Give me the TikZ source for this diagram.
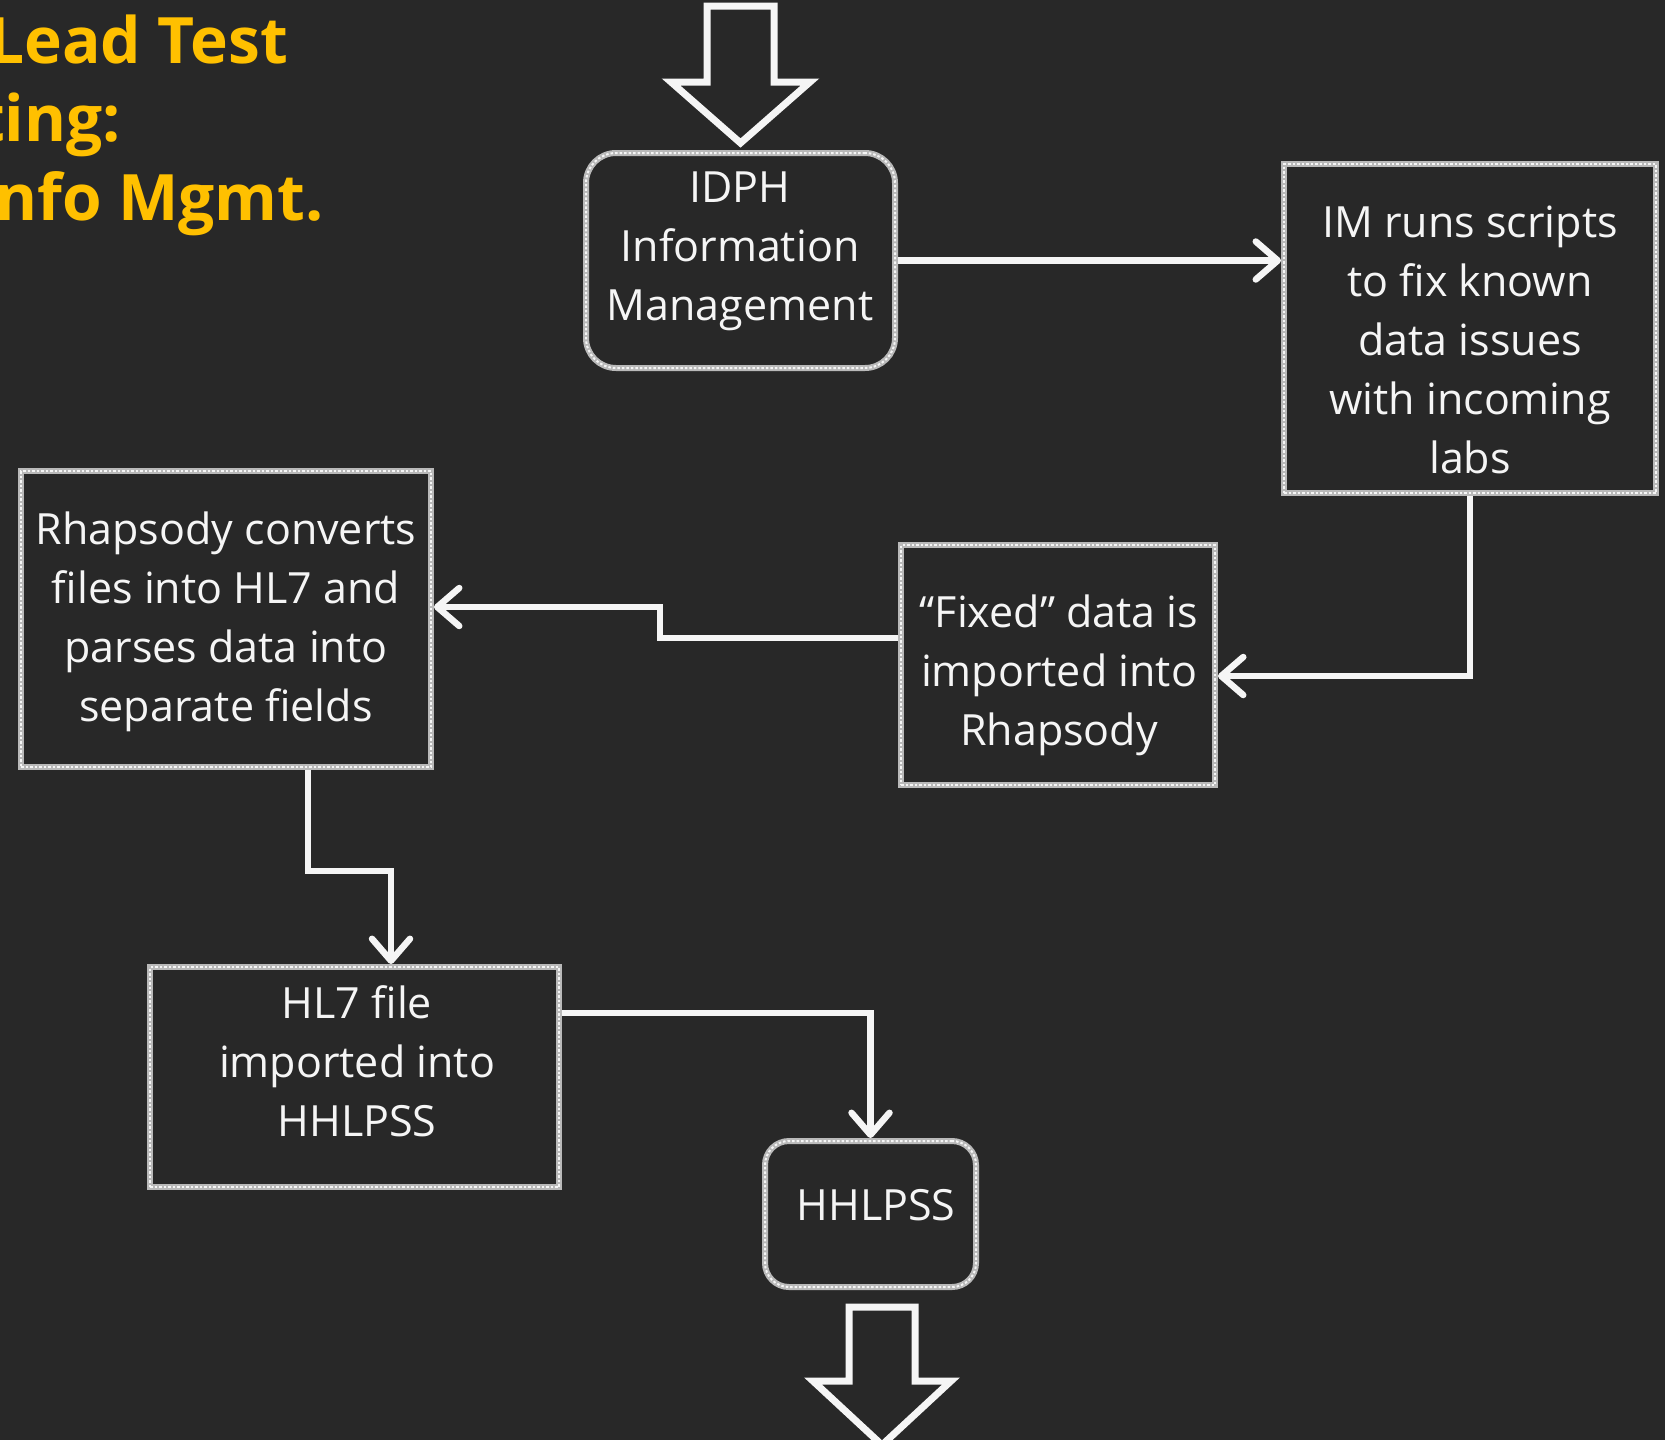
\documentclass[tikz,border=0pt]{standalone}
\usepackage{fontspec}
\setmainfont{Open Sans}
\usetikzlibrary{arrows.meta}
\definecolor{board}{RGB}{40,40,40}
\definecolor{gold}{RGB}{255,192,0}
\definecolor{chalk}{RGB}{185,185,185}
\definecolor{ink}{RGB}{245,245,245}
\begin{document}
\begin{tikzpicture}[x=1pt,y=-1pt,
  box/.style={draw=chalk, line width=6pt, inner sep=0pt, fill=board,
    postaction={draw=white!92!gray, line width=2pt, dash pattern=on 2.5pt off 2pt}},
  rbox/.style={box, rounded corners=30pt},
  txt/.style={text=ink, align=center, font=\fontsize{43}{59}\selectfont, inner sep=0pt},
  title/.style={text=gold, anchor=base east, inner sep=0pt, font=\fontsize{64}{78}\selectfont\bfseries},
  conn/.style={draw=ink, line width=6.5pt, line join=miter,
    -{Straight Barb[length=22pt,width=38pt,round]}},
  blockarrow/.style={draw=ink, line width=7pt, line join=miter}]
\useasboundingbox (0,0) rectangle (1665,1440);
\clip (0,0) rectangle (1665,1440);
\fill[board] (0,0) rectangle (1665,1440);

% title
\node[title] (t1) at (288,63) {Lead Test};
\node[title] (t2) at (121,141) {ting:};
\node[title] (t3) at (324,220) {nfo Mgmt.};

% boxes
\node[rbox, minimum width=309pt, minimum height=215pt] (idph) at (740.5,260.5) {};
\node[box, minimum width=372pt, minimum height=329pt] (im) at (1470,328.5) {};
\node[box, minimum width=410pt, minimum height=296pt] (rhap) at (226,619) {};
\node[box, minimum width=314pt, minimum height=240pt] (fixed) at (1058,665) {};
\node[box, minimum width=409pt, minimum height=220pt] (hl7) at (354.5,1077) {};
\node[rbox, rounded corners=24pt, minimum width=211pt, minimum height=146pt] (hh) at (870.5,1214) {};

% texts
\node[txt] (idphT) at (740,251) {IDPH\\Information\\Management};
\node[txt] (imT) at (1470,340) {IM runs scripts\\to fix known\\data issues\\with incoming\\labs};
\node[txt] (rhapT) at (226,622) {Rhapsody converts\\files into HL7 and\\parses data into\\separate fields};
\node[txt] (fixedT) at (1059,675) {“Fixed” data is\\imported into\\Rhapsody};
\node[txt] (hl7T) at (357,1061) {HL7 file\\imported into\\HHLPSS};
\node[txt] (hhT) at (876,1205) {HHLPSS};

% block arrows
\draw[blockarrow] (707,6) -- (774,6) -- (774,82) -- (810,82) -- (740.5,143) -- (671,82) -- (707,82) -- cycle;
\draw[blockarrow] (849,1307) -- (915,1307) -- (915,1381) -- (951,1381) -- (882,1445) -- (813,1381) -- (849,1381) -- cycle;

% connectors
\draw[conn] (idph.east) -- (idph.east -| im.west);
\coordinate (a1) at (1470,676);
\draw[conn] (im.south) -- (a1) -- (a1 -| fixed.east);
\coordinate (b1) at (660,638);
\coordinate (b2) at (660,607);
\draw[conn] (b1 -| fixed.west) -- (b1) -- (b2) -- (b2 -| rhap.east);
\coordinate (c1) at (308,871);
\coordinate (c2) at (391,871);
\draw[conn] (c1 |- rhap.south) -- (c1) -- (c2) -- (c2 |- hl7.north);
\coordinate (d1) at (870.5,1013);
\draw[conn] (d1 -| hl7.east) -- (d1) -- (hh.north);
\end{tikzpicture}
\end{document}
